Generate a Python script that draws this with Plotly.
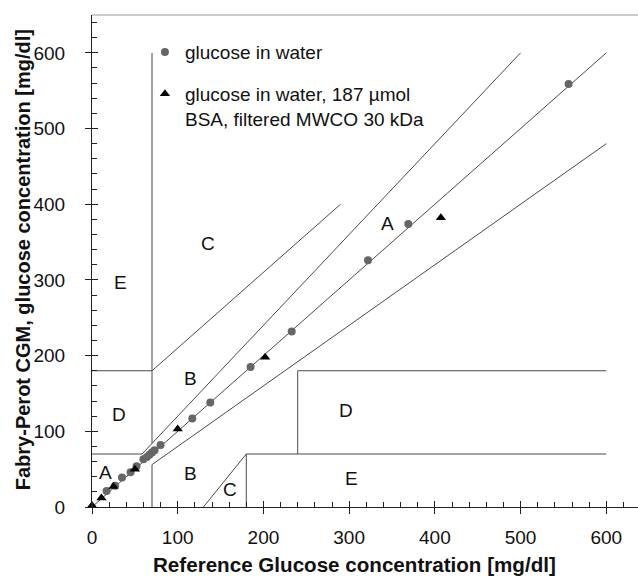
import plotly.graph_objects as go

# ---- data -------------------------------------------------------------
water_ref = [17, 27, 35, 45, 52, 60, 64, 67, 70, 73, 80, 117, 138, 185, 233, 322, 369, 556]
water_cgm = [21, 28, 39, 46, 54, 63, 66, 69, 72, 75, 82, 117, 138, 185, 232, 326, 374, 559]
bsa_ref = [0, 11, 25, 50, 100, 202, 407]
bsa_cgm = [2, 12, 27, 50, 103, 198, 382]

# Clarke error grid boundary segments: start x, start y, end x, end y
seg_x0 = [0, 0, 175 / 3, 70, 0, 70, 70, 70, 180, 180, 240, 240, 130]
seg_y0 = [0, 70, 70, 84, 180, 180, 0, 56, 70, 0, 70, 180, 0]
seg_x1 = [600, 175 / 3, 500, 70, 70, 290, 70, 600, 600, 180, 240, 600, 180]
seg_y1 = [600, 70, 600, 600, 180, 400, 56, 480, 70, 70, 180, 180, 70]

zone_text = ["A", "A", "B", "B", "C", "C", "D", "D", "E", "E"]
zone_x = [16, 345, 115, 115, 135, 161, 31, 296, 33, 303]
zone_y = [46, 374, 170, 44, 348, 23, 122, 128, 297, 37]

x_ticks = [0, 100, 200, 300, 400, 500, 600]
y_ticks = [0, 100, 200, 300, 400, 500, 600]
x_max = 637
y_max = 650

FONT = "Liberation Sans, Arial, sans-serif"
LINE_C = "#4a4a4a"
AXIS_C = "#222222"

# ---- build -------------------------------------------------------------
gx, gy = [], []
for a, b, c, d in zip(seg_x0, seg_y0, seg_x1, seg_y1):
    gx += [a, c, None]
    gy += [b, d, None]

fig = go.Figure()
fig.add_trace(go.Scatter(x=gx, y=gy, mode="lines", line=dict(color=LINE_C, width=1),
                         showlegend=False, hoverinfo="skip"))
fig.add_trace(go.Scatter(x=water_ref, y=water_cgm, mode="markers", name="glucose in water",
                         legendgroup="g1",
                         marker=dict(symbol="circle", size=8, color="#666666"),
                         cliponaxis=False))
fig.add_trace(go.Scatter(x=bsa_ref, y=bsa_cgm, mode="markers",
                         name="glucose in water, 187 µmol<br>BSA, filtered MWCO 30 kDa",
                         legendgroup="g2",
                         marker=dict(symbol="triangle-up", size=9, color="#000000"),
                         cliponaxis=False))
# helper trace for overlay axes (inside half of major ticks)
fig.add_trace(go.Scatter(x=[None], y=[None], xaxis="x2", yaxis="y2",
                         showlegend=False, hoverinfo="skip"))

for t, x, y in zip(zone_text, zone_x, zone_y):
    fig.add_annotation(x=x, y=y, text=t, showarrow=False, xref="x", yref="y",
                       font=dict(family=FONT, size=19, color="#111111"))

fig.add_annotation(xref="paper", yref="paper", x=0.481, y=-0.117,
                   text="<b>Reference Glucose concentration [mg/dl]</b>", showarrow=False,
                   xanchor="center", yanchor="middle",
                   font=dict(family=FONT, size=20.6, color="#111111"))
fig.add_annotation(xref="paper", yref="paper", x=-0.126, y=0.502,
                   text="<b>Fabry-Perot CGM, glucose concentration [mg/dl]</b>", showarrow=False,
                   textangle=-90, xanchor="center", yanchor="middle",
                   font=dict(family=FONT, size=20, color="#111111"))

# top frame line
fig.add_shape(type="line", xref="paper", yref="paper", x0=0, x1=1, y0=1, y1=1,
              line=dict(color="#999999", width=1))

common = dict(showgrid=False, zeroline=False)
fig.update_layout(
    width=638, height=578,
    margin=dict(l=92, r=0, t=15, b=71),
    paper_bgcolor="white", plot_bgcolor="white",
    font=dict(family=FONT, size=19, color="#111111"),
    xaxis=dict(range=[0, x_max], tickvals=x_ticks, ticks="outside", ticklen=6,
               tickcolor=AXIS_C, showline=True, linecolor=AXIS_C, linewidth=1,
               ticklabelstandoff=7,
               minor=dict(dtick=20, tick0=0, ticks="inside", ticklen=5, tickcolor=AXIS_C),
               tickfont=dict(family=FONT, size=19, color="#111111"), **common),
    yaxis=dict(range=[0, y_max], tickvals=y_ticks, ticks="outside", ticklen=6,
               tickcolor=AXIS_C, showline=True, linecolor=AXIS_C, linewidth=1,
               ticklabelstandoff=16,
               minor=dict(dtick=20, tick0=0, ticks="inside", ticklen=5, tickcolor=AXIS_C),
               tickfont=dict(family=FONT, size=19, color="#111111"), **common),
    xaxis2=dict(range=[0, x_max], overlaying="x", anchor="y2", side="bottom",
                tickvals=x_ticks, ticks="inside", ticklen=6, tickcolor=AXIS_C,
                showticklabels=False, showline=False, **common),
    yaxis2=dict(range=[0, y_max], overlaying="y", anchor="x2", side="left",
                tickvals=y_ticks, ticks="inside", ticklen=6, tickcolor=AXIS_C,
                showticklabels=False, showline=False, **common),
    showlegend=True,
    legend=dict(x=0.097, y=0.963, xanchor="left", yanchor="top", bgcolor="rgba(0,0,0,0)",
                borderwidth=0, itemwidth=30, valign="top", tracegroupgap=14,
                font=dict(family=FONT, size=19, color="#111111")),
)

fig.write_html("out.html")
